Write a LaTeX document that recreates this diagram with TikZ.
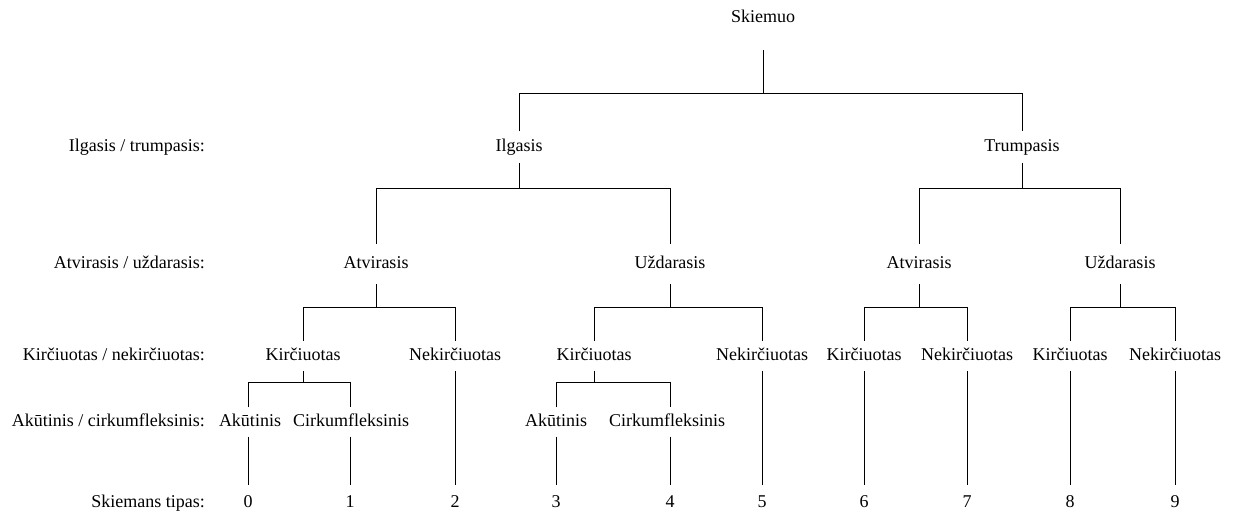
\documentclass[tikz,border=0pt]{standalone}
\usepackage{fontspec}
\setmainfont{Liberation Serif}
\begin{document}
\begin{tikzpicture}[x=1pt,y=-1pt,
  lbl/.style={font=\fontsize{18}{21}\selectfont, inner sep=0pt, text height=12.5pt, text depth=4pt},
  nd/.style={lbl, minimum height=#1},
  cat/.style={lbl, anchor=east},
  conn/.style={line width=0.8pt, draw=black}]
\useasboundingbox (0,0) rectangle (1238,515);
% category labels
\node[cat] (c1) at (205,147) {Ilgasis / trumpasis:};
\node[cat] (c2) at (205,264) {Atvirasis / uždarasis:};
\node[cat] (c3) at (205,356) {Kirčiuotas / nekirčiuotas:};
\node[cat] (c4) at (205,422) {Akūtinis / cirkumfleksinis:};
\node[cat] (c5) at (205,503) {Skiemans tipas:};
% tree nodes
\node[nd=64pt] (root) at (763,18) {Skiemuo};
\node[nd=31pt] (ilg) at (519,147) {Ilgasis};
\node[nd=31pt] (tru) at (1022,147) {Trumpasis};
\node[nd=40pt] (a1) at (376,264) {Atvirasis};
\node[nd=40pt] (u1) at (670,264) {Uždarasis};
\node[nd=40pt] (a2) at (919,264) {Atvirasis};
\node[nd=40pt] (u2) at (1120,264) {Uždarasis};
\node[nd=30pt] (k1) at (303,356) {Kirčiuotas};
\node[nd=30pt] (n1) at (455,356) {Nekirčiuotas};
\node[nd=30pt] (k2) at (594,356) {Kirčiuotas};
\node[nd=30pt] (n2) at (762,356) {Nekirčiuotas};
\node[nd=30pt] (k3) at (864,356) {Kirčiuotas};
\node[nd=30pt] (n3) at (967,356) {Nekirčiuotas};
\node[nd=30pt] (k4) at (1070,356) {Kirčiuotas};
\node[nd=30pt] (n4) at (1175,356) {Nekirčiuotas};
\node[nd=29pt] (ak1) at (250,422) {Akūtinis};
\node[nd=29pt] (cf1) at (351,422) {Cirkumfleksinis};
\node[nd=29pt] (ak2) at (556,422) {Akūtinis};
\node[nd=29pt] (cf2) at (667,422) {Cirkumfleksinis};
\node[nd=36pt] (t0) at (248,503) {0};
\node[nd=36pt] (t1) at (350,503) {1};
\node[nd=36pt] (t2) at (455,503) {2};
\node[nd=36pt] (t3) at (556,503) {3};
\node[nd=36pt] (t4) at (670,503) {4};
\node[nd=36pt] (t5) at (762,503) {5};
\node[nd=36pt] (t6) at (864,503) {6};
\node[nd=36pt] (t7) at (967,503) {7};
\node[nd=36pt] (t8) at (1070,503) {8};
\node[nd=36pt] (t9) at (1175,503) {9};
% bar levels
\coordinate (b0) at (0,93);
\coordinate (b1) at (0,188);
\coordinate (b2) at (0,307);
\coordinate (b3) at (0,382);
% connectors
\draw[conn] (root.south) -- (root.south |- b0);
\draw[conn] (ilg.north) -- (ilg.north |- b0) -- (tru.north |- b0) -- (tru.north);
\draw[conn] (ilg.south) -- (ilg.south |- b1);
\draw[conn] (a1.north) -- (a1.north |- b1) -- (u1.north |- b1) -- (u1.north);
\draw[conn] (tru.south) -- (tru.south |- b1);
\draw[conn] (a2.north) -- (a2.north |- b1) -- (u2.north |- b1) -- (u2.north);
\draw[conn] (a1.south) -- (a1.south |- b2);
\draw[conn] (k1.north) -- (k1.north |- b2) -- (n1.north |- b2) -- (n1.north);
\draw[conn] (u1.south) -- (u1.south |- b2);
\draw[conn] (k2.north) -- (k2.north |- b2) -- (n2.north |- b2) -- (n2.north);
\draw[conn] (a2.south) -- (a2.south |- b2);
\draw[conn] (k3.north) -- (k3.north |- b2) -- (n3.north |- b2) -- (n3.north);
\draw[conn] (u2.south) -- (u2.south |- b2);
\draw[conn] (k4.north) -- (k4.north |- b2) -- (n4.north |- b2) -- (n4.north);
\draw[conn] (k1.south) -- (k1.south |- b3);
\draw[conn] (t0.north |- ak1.north) -- (t0.north |- b3) -- (t1.north |- b3) -- (t1.north |- cf1.north);
\draw[conn] (k2.south) -- (k2.south |- b3);
\draw[conn] (t3.north |- ak2.north) -- (t3.north |- b3) -- (t4.north |- b3) -- (t4.north |- cf2.north);
\draw[conn] (t0.north |- ak1.south) -- (t0.north);
\draw[conn] (t1.north |- cf1.south) -- (t1.north);
\draw[conn] (t3.north |- ak2.south) -- (t3.north);
\draw[conn] (t4.north |- cf2.south) -- (t4.north);
\draw[conn] (n1.south) -- (t2.north);
\draw[conn] (n2.south) -- (t5.north);
\draw[conn] (k3.south) -- (t6.north);
\draw[conn] (n3.south) -- (t7.north);
\draw[conn] (k4.south) -- (t8.north);
\draw[conn] (n4.south) -- (t9.north);
\end{tikzpicture}
\end{document}
